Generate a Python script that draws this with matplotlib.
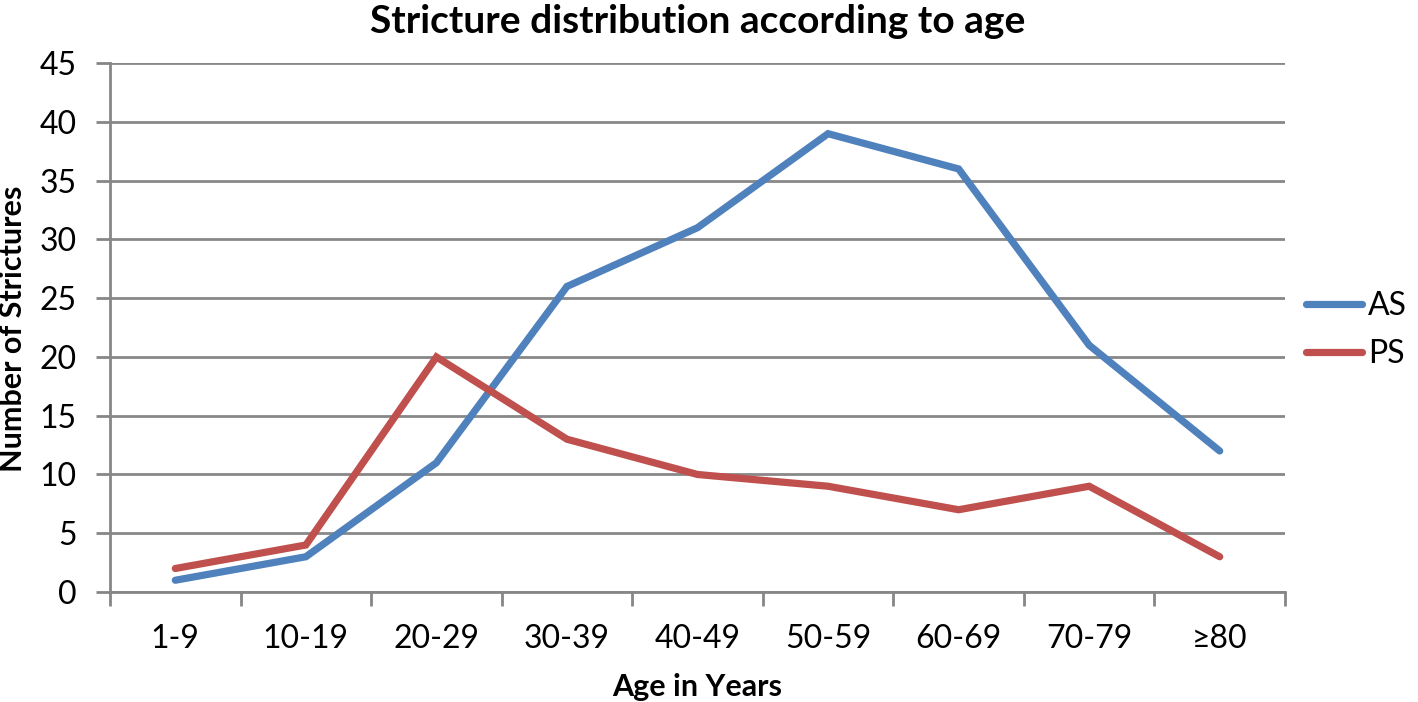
import matplotlib
matplotlib.use("Agg")
import matplotlib.pyplot as plt

# Datos
categorias = ['1-9', '10-19', '20-29', '30-39', '40-49', '50-59', '60-69', '70-79', '≥80']
valores_as = [1, 3, 11, 26, 31, 39, 36, 21, 12]
valores_ps = [2, 4, 20, 13, 10, 9, 7, 9, 3]
ticks_y = [0, 5, 10, 15, 20, 25, 30, 35, 40, 45]

plt.rcParams['font.family'] = ['Lato', 'DejaVu Sans']

fig = plt.figure(figsize=(14.18, 7.02), dpi=100)
ax = fig.add_axes([0.0776, 0.1567, 0.8286, 0.7533])

x = list(range(len(categorias)))
ax.plot(x, valores_as, color='#4F81BD', linewidth=5.2, label='AS', solid_capstyle='round', solid_joinstyle='miter')
ax.plot(x, valores_ps, color='#C0504D', linewidth=5.2, label='PS', solid_capstyle='round', solid_joinstyle='miter')

ax.set_xlim(-0.5, len(categorias) - 0.5)
ax.set_ylim(0, 45)
ax.set_yticks(ticks_y)
ax.tick_params(axis='y', labelsize=23, length=10, width=2, color='#868686', pad=14)

# Marcas del eje x en los límites de las categorías
ax.set_xticks([i - 0.5 for i in range(len(categorias) + 1)])
ax.set_xticklabels([])
ax.set_xticks(x, minor=True)
ax.set_xticklabels(categorias, minor=True)
ax.tick_params(axis='x', which='major', length=10, width=2, color='#868686')
ax.tick_params(axis='x', which='minor', length=0, labelsize=23, pad=23)

ax.grid(axis='y', color='#888888', linewidth=2)
ax.set_axisbelow(True)
for lado in ['top', 'right']:
    ax.spines[lado].set_visible(False)
for lado in ['left', 'bottom']:
    ax.spines[lado].set_color('#868686')
    ax.spines[lado].set_linewidth(2)

ax.set_title('Stricture distribution according to age', fontsize=28, fontweight='bold', pad=22)
ax.set_xlabel('Age in Years', fontsize=22, fontweight='bold', labelpad=14)
fig.text(0.0095, 0.532, 'Number of Strictures', rotation=90, fontsize=22, fontweight='bold',
         ha='center', va='center')

fig.legend(loc='center left', bbox_to_anchor=(0.921, 0.53), frameon=False, fontsize=23,
           handlelength=1.75, handletextpad=0.2, labelspacing=0.55,
           borderpad=0, borderaxespad=0)

fig.savefig('out.png', dpi=100)
